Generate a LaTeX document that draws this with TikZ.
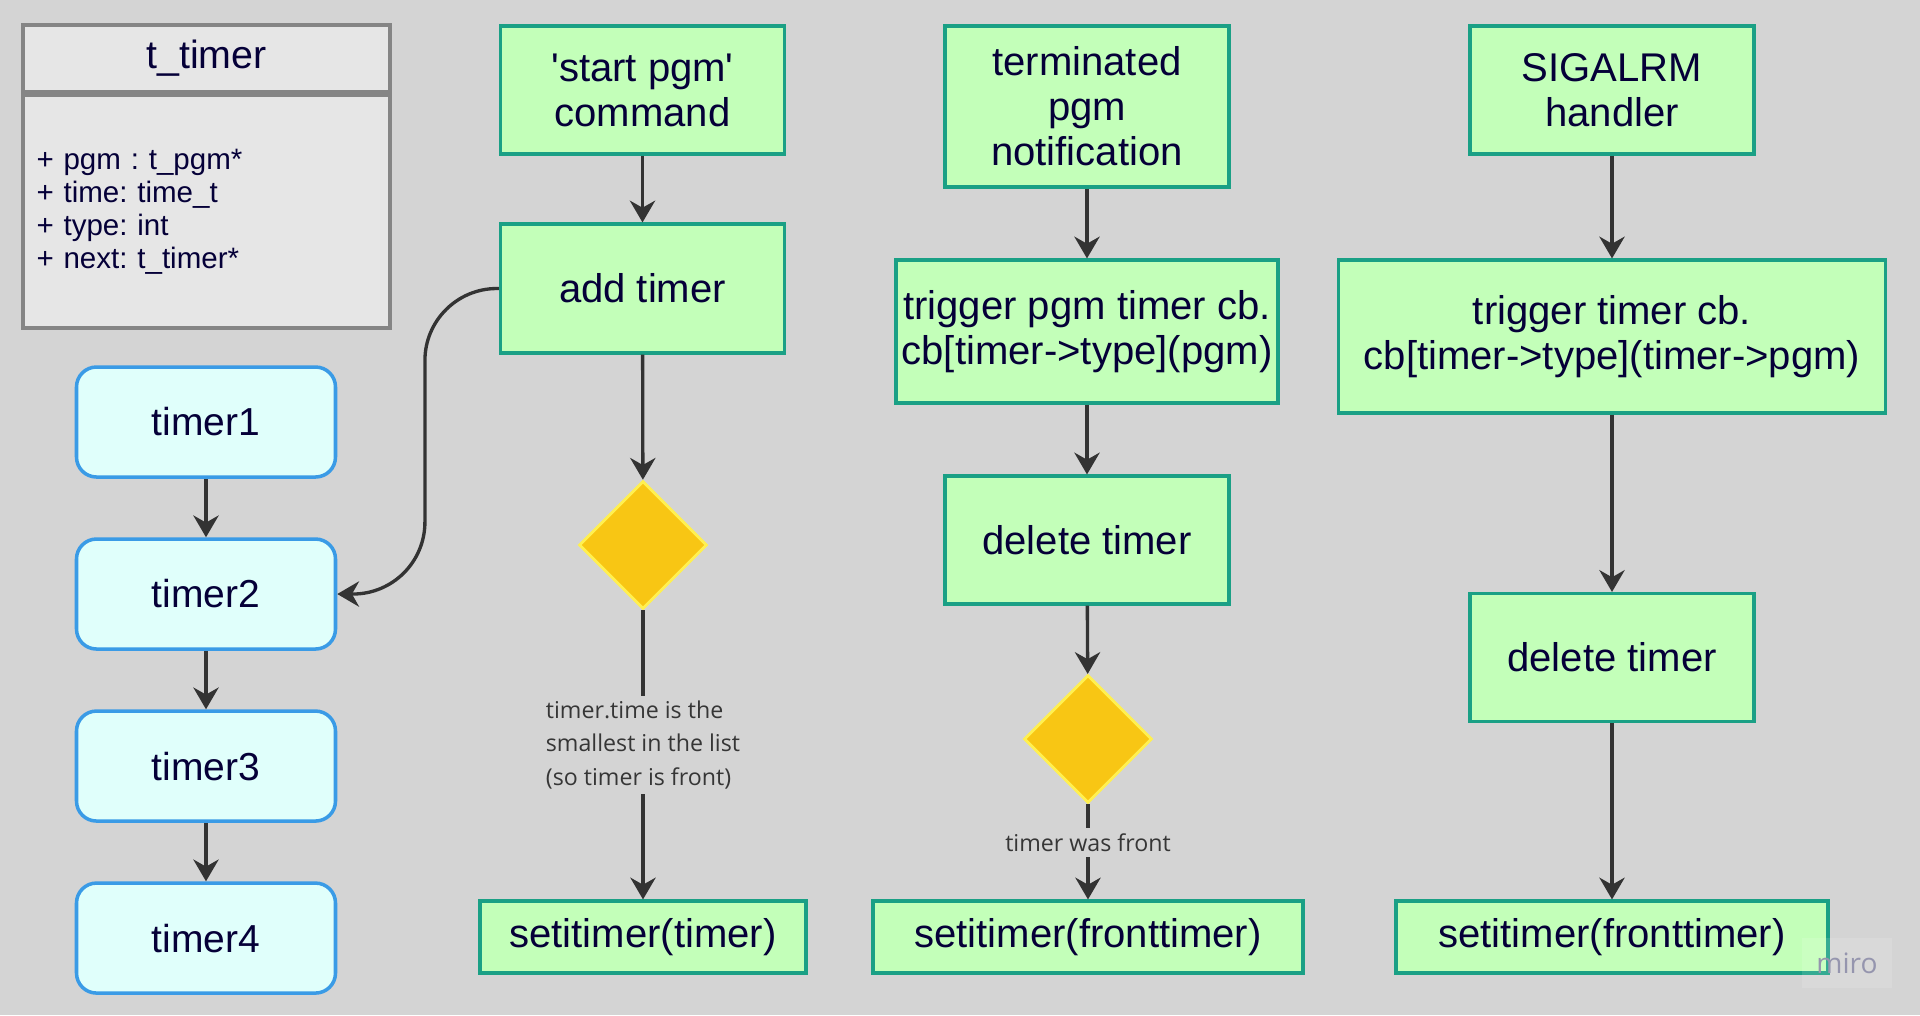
\documentclass[tikz,border=0pt]{standalone}
\usepackage{fontspec}
\newfontfamily\boxfont{Liberation Sans}
\newfontfamily\labelfont{Open Sans}
\usetikzlibrary{arrows.meta, shapes.geometric, positioning, calc}
\frenchspacing

\definecolor{bgcol}{HTML}{D4D4D4}
\definecolor{boxfill}{HTML}{C3FFB9}
\definecolor{boxline}{HTML}{1AA085}
\definecolor{decfill}{HTML}{F8C614}
\definecolor{decline}{HTML}{FFF050}
\definecolor{tmfill}{HTML}{E0FFFB}
\definecolor{tmline}{HTML}{3A9BE6}
\definecolor{clsfill}{HTML}{E6E6E6}
\definecolor{clsline}{HTML}{858585}
\definecolor{txtcol}{HTML}{050038}
\definecolor{arrcol}{HTML}{333333}
\definecolor{lblcol}{HTML}{363636}

\begin{document}
\begin{tikzpicture}[
    flow/.style={rectangle, draw=boxline, fill=boxfill, line width=0.9pt,
      text=txtcol, font=\boxfont\fontsize{11.4}{12.8}\selectfont,
      align=center, inner sep=0pt, minimum width=2.84cm},
    test/.style={diamond, aspect=1, draw=decline, fill=decfill, line width=0.8pt,
      minimum width=1.28cm, minimum height=1.28cm, inner sep=0pt},
    tmr/.style={rectangle, rounded corners=0.2cm, draw=tmline, fill=tmfill,
      line width=1pt, text=txtcol, font=\boxfont\fontsize{11.1}{13}\selectfont,
      minimum width=2.59cm, minimum height=1.1cm},
    cls/.style={rectangle, draw=clsline, fill=clsfill, line width=1.1pt,
      text=txtcol, minimum width=3.67cm},
    arr/.style={draw=arrcol, line width=0.95pt, -{Stealth[length=6.2pt,width=7.2pt]}},
    lbl/.style={fill=bgcol, text=lblcol, font=\labelfont\fontsize{6.6}{9.5}\selectfont,
      align=left, inner sep=1.5pt}
  ]
  % canvas
  \useasboundingbox (0,0) rectangle (19.2,-10.15);
  \fill[bgcol] (0,0) rectangle (19.2,-10.15);

  % struct of one timer
  \node[cls, minimum height=0.67cm, font=\boxfont\fontsize{11.2}{13}\selectfont] (head) at (2.065,-0.585) {t\_timer};
  \node[cls, minimum height=2.33cm, text width=3.4cm, align=left,
    font=\boxfont\fontsize{8.4}{9.4}\selectfont] (attrs) at (2.065,-2.115)
    {+ pgm : t\_pgm*\\+ time: time\_t\\+ type: int\\+ next: t\_timer*};

  % the timer list
  \node[tmr] (t1) at (2.06,-4.22) {timer1};
  \node[tmr, below=0.585cm of t1] (t2) {timer2};
  \node[tmr, below=0.585cm of t2] (t3) {timer3};
  \node[tmr, below=0.585cm of t3] (t4) {timer4};
  \draw[arr] (t1) -- (t2);
  \draw[arr] (t2) -- (t3);
  \draw[arr] (t3) -- (t4);

  % start pgm
  \node[flow, minimum height=1.28cm] (start) at (6.425,-0.90) {'start pgm'\\command};
  \node[flow, minimum height=1.29cm] (add) at (6.425,-2.885) {add timer};
  \node[test] (dec1) at (6.43,-5.45) {};
  \node[flow, minimum width=3.26cm, minimum height=0.72cm] (set1) at (6.43,-9.37) {setitimer(timer)};
  \draw[arr] (start) -- (add);
  \draw[arr] (add) -- (dec1);
  \draw[arr] (dec1) -- node[lbl, pos=0.465] {timer.time is the\\smallest in the list\\(so timer is front)} (set1);
  \draw[arr, rounded corners=0.72cm] (add.west) -- ++(-0.74,0) |- (t2.east);

  % terminated pgm
  \node[flow, minimum height=1.61cm] (term) at (10.87,-1.065) {terminated\\pgm\\notification};
  \node[flow, minimum width=3.82cm, minimum height=1.43cm] (trig1) at (10.87,-3.315) {trigger pgm timer cb.\\cb[timer->type](pgm)};
  \node[flow, minimum height=1.28cm] (del1) at (10.87,-5.40) {delete timer};
  \node[test] (dec2) at (10.88,-7.39) {};
  \node[flow, minimum width=4.30cm, minimum height=0.72cm] (set2) at (10.88,-9.37) {setitimer(fronttimer)};
  \draw[arr] (term) -- (trig1);
  \draw[arr] (trig1) -- (del1);
  \draw[arr] (del1) -- (dec2);
  \draw[arr] (dec2) -- node[lbl, pos=0.4] {timer was front} (set2);

  % SIGALRM
  \node[flow, minimum height=1.28cm] (sig) at (16.12,-0.90) {SIGALRM\\handler};
  \node[flow, minimum width=5.47cm, minimum height=1.53cm] (trig2) at (16.12,-3.365) {trigger timer cb.\\cb[timer->type](timer->pgm)};
  \node[flow, minimum height=1.28cm] (del2) at (16.12,-6.575) {delete timer};
  \node[flow, minimum width=4.32cm, minimum height=0.72cm] (set3) at (16.12,-9.37) {setitimer(fronttimer)};
  \draw[arr] (sig) -- (trig2);
  \draw[arr] (trig2) -- (del2);
  \draw[arr] (del2) -- (set3);

  % watermark
  \node[fill=white, fill opacity=0.12, text opacity=1, text=black!22!bgcol!90!blue,
    font=\labelfont\fontsize{8}{9}\selectfont, minimum width=0.9cm, minimum height=0.5cm,
    inner sep=0pt] (miro) at (18.47,-9.63) {miro};
\end{tikzpicture}
\end{document}
